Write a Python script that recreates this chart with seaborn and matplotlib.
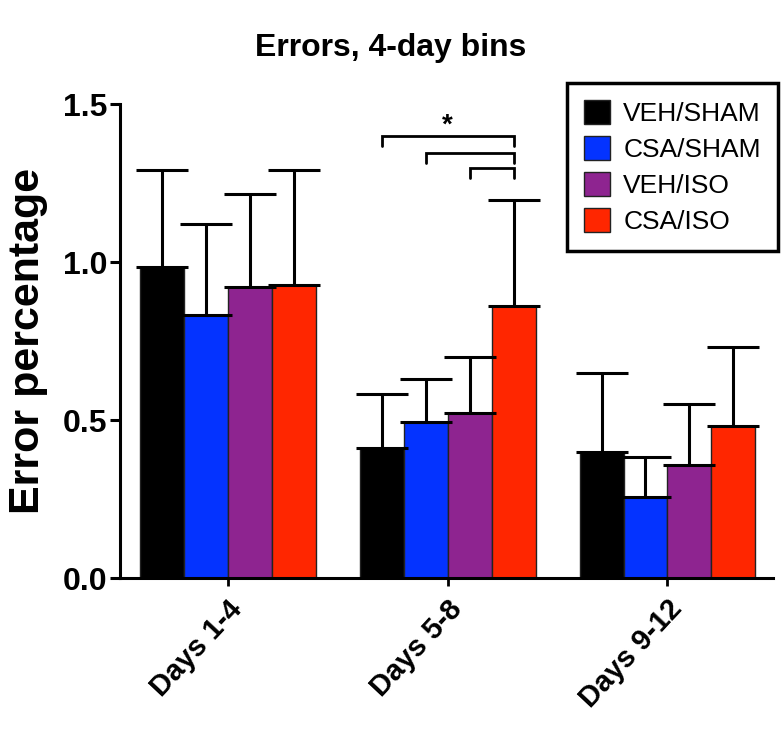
import matplotlib
matplotlib.use("Agg")
import matplotlib.pyplot as plt
from matplotlib.patches import Patch
import numpy as np
import pandas as pd
import seaborn as sns

# values (mean + upper SEM)
bins = ["Days 1-4", "Days 5-8", "Days 9-12"]
groups = ["VEH/SHAM", "CSA/SHAM", "VEH/ISO", "CSA/ISO"]
colors = ["#000000", "#0433FF", "#8E2490", "#FF2600"]

veh_sham = [0.985, 0.412, 0.400]
csa_sham = [0.834, 0.495, 0.257]
veh_iso = [0.920, 0.522, 0.358]
csa_iso = [0.927, 0.861, 0.482]

veh_sham_sem = [0.306, 0.170, 0.250]
csa_sham_sem = [0.285, 0.135, 0.127]
veh_iso_sem = [0.294, 0.178, 0.193]
csa_iso_sem = [0.363, 0.335, 0.250]

means = [veh_sham, csa_sham, veh_iso, csa_iso]
sems = [veh_sham_sem, csa_sham_sem, veh_iso_sem, csa_iso_sem]

# significance brackets (Days 5-8): each group vs CSA/ISO
bracket_from = ["VEH/SHAM", "CSA/SHAM", "VEH/ISO"]
bracket_levels = [1.40, 1.346, 1.297]

rows = []
for g, m in zip(groups, means):
    for b, v in zip(bins, m):
        rows.append({"bin": b, "group": g, "error": v})
df = pd.DataFrame(rows)

sns.set_theme(style="ticks")
plt.rcParams["font.family"] = ["Liberation Sans", "DejaVu Sans"]
plt.rcParams["text.color"] = "black"
plt.rcParams["axes.labelcolor"] = "black"

fig, ax = plt.subplots(figsize=(7.82, 7.30), dpi=100)
fig.subplots_adjust(left=0.1535, right=0.9885, bottom=0.208, top=0.8575)

sns.barplot(data=df, x="bin", y="error", hue="group", order=bins, hue_order=groups,
            palette=colors, errorbar=None, width=0.8, edgecolor="#222222",
            linewidth=1.0, saturation=1, legend=False, ax=ax)

# upper-only error bars on each bar
for cont, sem in zip(ax.containers, sems):
    xs = [p.get_x() + p.get_width() / 2 for p in cont.patches]
    hs = [p.get_height() for p in cont.patches]
    ax.errorbar(xs, hs, yerr=[np.zeros(len(sem)), sem], fmt="none", ecolor="black",
                elinewidth=2.2, capsize=18.5, capthick=2.2, zorder=3)

# brackets for Days 5-8
day_idx = bins.index("Days 5-8")
target = ax.containers[groups.index("CSA/ISO")].patches[day_idx]
x_end = target.get_x() + target.get_width() / 2
drop = 0.032
for g, lev in zip(bracket_from, bracket_levels):
    p = ax.containers[groups.index(g)].patches[day_idx]
    x0 = p.get_x() + p.get_width() / 2
    ax.plot([x0, x0, x_end, x_end], [lev - drop, lev, lev, lev - drop],
            color="black", lw=2.0, solid_joinstyle="miter", zorder=3)
top_p = ax.containers[groups.index(bracket_from[0])].patches[day_idx]
x_star = (top_p.get_x() + top_p.get_width() / 2 + x_end) / 2
ax.text(x_star, bracket_levels[0] + 0.033, "*", ha="center", va="center",
        fontsize=20, fontweight="bold")

ax.set_xlim(-0.49, 2.48)
ax.set_ylim(0, 1.5)
ax.set_yticks([0.0, 0.5, 1.0, 1.5])
ax.set_yticklabels(["0.0", "0.5", "1.0", "1.5"], fontsize=23, fontweight="bold")
ax.set_xticks(range(len(bins)))
ax.set_xticklabels(bins, fontsize=21, fontweight="bold", rotation=47,
                   ha="right", rotation_mode="anchor")
ax.set_xlabel("")
ax.set_ylabel("Error percentage", fontsize=31, fontweight="bold")
ax.yaxis.set_label_coords(-0.11, 0.5)

sns.despine(ax=ax)
for s in ["left", "bottom"]:
    ax.spines[s].set_linewidth(2.2)
    ax.spines[s].set_color("black")
ax.tick_params(axis="y", direction="out", length=7, width=2.2, colors="black", pad=2)
ax.tick_params(axis="x", direction="out", length=6, width=2.0, colors="black", pad=6)

fig.text(0.5, 1 - 56 / 730, "Errors, 4-day bins", ha="center", va="baseline",
         fontsize=23, fontweight="bold", color="black")

handles = [Patch(facecolor=c, edgecolor="#222222", linewidth=1.0) for c in colors]
leg = fig.legend(handles, groups, loc="upper right", bbox_to_anchor=(0.995, 0.886),
                 fontsize=19, frameon=True, fancybox=False, handlelength=1.0,
                 handleheight=1.0, handletextpad=0.5, labelspacing=0.38,
                 borderpad=0.65, borderaxespad=0)
leg.get_frame().set_edgecolor("black")
leg.get_frame().set_linewidth(2.5)
leg.get_frame().set_alpha(1)

fig.savefig("out.png", dpi=100)
